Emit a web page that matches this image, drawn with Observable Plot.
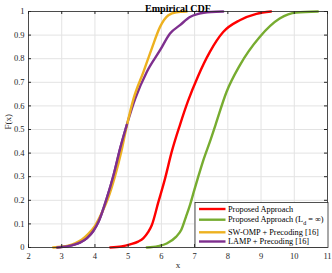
<!DOCTYPE html>
<html>
<head>
<meta charset="utf-8">
<script src="https://cdn.jsdelivr.net/npm/d3@7"></script>
<script src="https://cdn.jsdelivr.net/npm/@observablehq/plot@0.6"></script>
<style>
  html, body { margin: 0; padding: 0; background: #fff; }
  svg { display: block; }
</style>
</head>
<body>
<div id="chart"></div>
<script>
const seriesNames = [
  "Proposed Approach",
  "Proposed Approach (L_d = ∞)",
  "SW-OMP + Precoding [16]",
  "LAMP + Precoding [16]"
];
const seriesColors = ["#ff0000", "#77ac30", "#edb120", "#7e2f8e"];

const redX = [4.46, 4.8, 5.06, 5.3, 5.46, 5.6, 5.71, 5.91, 6.11, 6.31, 6.56, 6.8, 7.1, 7.46, 7.86, 8.36, 8.86, 9.3];
const redY = [0, 0.004, 0.013, 0.025, 0.04, 0.065, 0.094, 0.193, 0.292, 0.405, 0.52, 0.62, 0.725, 0.829, 0.913, 0.963, 0.99, 1];

const greenX = [5.56, 5.9, 6.16, 6.44, 6.6, 6.74, 6.86, 6.99, 7.11, 7.24, 7.49, 7.63, 7.96, 8.36, 8.96, 9.56, 10.06, 10.71];
const greenY = [0, 0.006, 0.017, 0.045, 0.075, 0.13, 0.18, 0.243, 0.3, 0.36, 0.46, 0.52, 0.659, 0.772, 0.892, 0.97, 0.996, 1];

const yellowX = [2.74, 3.0, 3.2, 3.4, 3.6, 3.8, 4.0, 4.2, 4.4, 4.6, 4.8, 4.95, 5.16, 5.46, 5.71, 5.96, 6.21, 6.45, 6.76];
const yellowY = [0, 0.003, 0.008, 0.018, 0.033, 0.058, 0.092, 0.145, 0.21, 0.3, 0.41, 0.51, 0.63, 0.744, 0.843, 0.935, 0.984, 0.997, 1];

const purpleX = [2.86, 3.16, 3.4, 3.56, 3.76, 3.95, 4.11, 4.36, 4.56, 4.76, 4.96, 5.21, 5.56, 5.96, 6.26, 6.56, 6.86, 7.11, 7.5, 7.86];
const purpleY = [0, 0.005, 0.013, 0.022, 0.04, 0.07, 0.11, 0.21, 0.306, 0.42, 0.52, 0.63, 0.744, 0.836, 0.907, 0.942, 0.977, 0.99, 0.998, 1];

const xTicks = [2, 3, 4, 5, 6, 7, 8, 9, 10, 11];
const yTicks = [0, 0.1, 0.2, 0.3, 0.4, 0.5, 0.6, 0.7, 0.8, 0.9, 1];
const yTickLabels = ["0", "0.1", "0.2", "0.3", "0.4", "0.5", "0.6", "0.7", "0.8", "0.9", "1"];
const titleText = "Empirical CDF";
const xLabel = "x";
const yLabel = "F(x)";

const xsAll = [redX, greenX, yellowX, purpleX];
const ysAll = [redY, greenY, yellowY, purpleY];
const rows = [];
xsAll.forEach((xs, s) => xs.forEach((x, i) => rows.push({s, x, y: ysAll[s][i]})));

const W = 332, H = 273;
const mL = 28, mR = 5, mT = 11, mB = 26;
const fw = W - mL - mR, fh = H - mT - mB;
const axisColor = "#262626";
const gridColor = "#e3e3e3";
const tk = 3;
const lw = 2.4;
const crv = "monotone-x";

const chart = Plot.plot({
  width: W,
  height: H,
  marginLeft: mL,
  marginRight: mR,
  marginTop: mT,
  marginBottom: mB,
  style: {fontFamily: "'Liberation Serif', 'Times New Roman', serif", fontSize: "8.5px", color: axisColor, background: "#fff"},
  x: {domain: [2, 11]},
  y: {domain: [0, 1]},
  marks: [
    Plot.gridX(xTicks, {stroke: gridColor, strokeOpacity: 1}),
    Plot.gridY(yTicks, {stroke: gridColor, strokeOpacity: 1}),
    Plot.line(rows.filter(d => d.s === 3), {x: "x", y: "y", stroke: seriesColors[3], strokeWidth: lw, curve: crv}),
    Plot.line(rows.filter(d => d.s === 2), {x: "x", y: "y", stroke: seriesColors[2], strokeWidth: lw, curve: crv}),
    Plot.line(rows.filter(d => d.s === 3 && d.y <= 0.52), {x: "x", y: "y", stroke: seriesColors[3], strokeWidth: lw, curve: crv}),
    Plot.line(rows.filter(d => d.s === 1), {x: "x", y: "y", stroke: seriesColors[1], strokeWidth: lw, curve: crv}),
    Plot.line(rows.filter(d => d.s === 0), {x: "x", y: "y", stroke: seriesColors[0], strokeWidth: lw, curve: crv}),
    Plot.tickX(xTicks, {x: d => d, stroke: axisColor, insetTop: fh - tk}),
    Plot.tickX(xTicks, {x: d => d, stroke: axisColor, insetBottom: fh - tk}),
    Plot.tickY(yTicks, {y: d => d, stroke: axisColor, insetRight: fw - tk}),
    Plot.tickY(yTicks, {y: d => d, stroke: axisColor, insetLeft: fw - tk}),
    Plot.frame({stroke: axisColor, strokeWidth: 0.8}),
    Plot.axisX(xTicks, {tickSize: 0, tickPadding: 5, label: null, fontSize: 8.5, fill: axisColor}),
    Plot.axisY(yTicks, {tickSize: 0, tickPadding: 4, label: null, fontSize: 8.5, fill: axisColor,
      tickFormat: d => yTickLabels[yTicks.indexOf(d)]}),
    Plot.text([titleText], {frameAnchor: "top", dy: -6.5, fontWeight: "bold", fontSize: 10, fill: "#000"}),
    Plot.text([xLabel], {frameAnchor: "bottom", dy: 20, fontSize: 9, fill: axisColor}),
    Plot.text([yLabel], {frameAnchor: "left", dx: -20, rotate: -90, fontSize: 9, fill: axisColor})
  ]
});

// Legend
const svg = d3.select(chart);
const lg = svg.append("g")
  .attr("font-family", "'Liberation Serif', 'Times New Roman', serif")
  .attr("font-size", 8.3)
  .attr("text-anchor", "start");
const bx = 195, by = 202.5, bw = 133, bh = 45;
lg.append("rect").attr("x", bx).attr("y", by).attr("width", bw).attr("height", bh)
  .attr("fill", "#fff").attr("stroke", axisColor).attr("stroke-width", 0.8);
const rowY = [209, 219.7, 232.3, 241.5];
seriesNames.forEach((name, i) => {
  const y = rowY[i];
  lg.append("line").attr("x1", bx + 4).attr("x2", bx + 30.5).attr("y1", y).attr("y2", y)
    .attr("stroke", seriesColors[i]).attr("stroke-width", lw);
  const t = lg.append("text").attr("x", bx + 33).attr("y", y).attr("dy", "0.33em")
    .attr("fill", "#000").attr("text-anchor", "start");
  if (name.includes("L_d")) {
    t.append("tspan").text("Proposed Approach (L");
    t.append("tspan").attr("dy", 2.5).attr("font-size", 6).text("d");
    t.append("tspan").attr("dy", -2.5).text(" = ∞)");
  } else {
    t.text(name);
  }
});

document.getElementById("chart").appendChild(chart);
</script>
</body>
</html>
